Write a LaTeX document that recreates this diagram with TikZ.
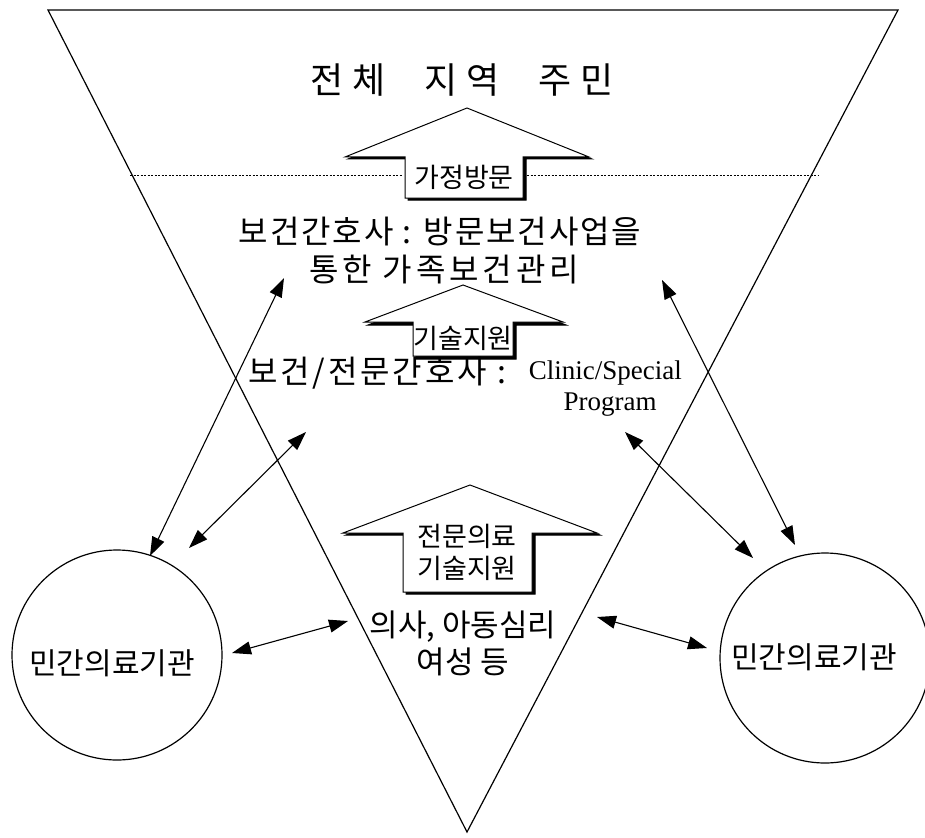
\documentclass[tikz,border=0pt]{standalone}
\usepackage{fontspec}
\setmainfont{Liberation Serif}
\newfontfamily\kr{Noto Sans CJK KR}
\usetikzlibrary{arrows.meta}
\begin{document}
\begin{tikzpicture}[x=1pt,y=-1pt,
  edge/.style={line width=1.2pt, line join=miter},
  dbl/.style={line width=1.1pt,{Triangle[length=19pt,width=13pt]}-{Triangle[length=19pt,width=13pt]}},
  dots/.style={line width=0.8pt, dash pattern=on 2pt off 1.5pt},
  big/.style={font=\kr\addfontfeature{LetterSpace=6}\fontsize{32}{36}\selectfont, inner sep=0pt},
  bigs/.style={font=\kr\addfontfeature{LetterSpace=9}\fontsize{32}{36}\selectfont, inner sep=0pt},
  bigw/.style={font=\kr\addfontfeature{LetterSpace=12}\fontsize{32}{36}\selectfont, inner sep=0pt},
  mid/.style={font=\kr\fontsize{31}{36}\selectfont, inner sep=0pt},
  lbl/.style={font=\kr\fontsize{27}{30}\selectfont, inner sep=0pt},
  circtxt/.style={font=\kr\fontsize{30}{34}\selectfont, inner sep=0pt},
  latin/.style={font=\rmfamily\fontsize{27}{32}\selectfont, inner sep=0pt},
  upar/.style={draw=black, line width=1pt, fill=white},
  shadow/.style={fill=black, draw=black, line width=1pt}]
\useasboundingbox (0,0) rectangle (925,837);

% big triangle
\coordinate (tl) at (48,10);
\coordinate (tr) at (898,10);
\coordinate (ap) at (467,832);
\draw[edge] (tl) -- (tr) -- (ap) -- cycle;

% dotted line
\coordinate (d1) at (130,175);
\coordinate (d2) at (403,175);
\coordinate (d3) at (527,175);
\coordinate (d4) at (818,175);
\draw[dots] (d1) -- (d2);
\draw[dots] (d3) -- (d4);

% title
\node[font=\kr\fontsize{36}{40}\selectfont, inner sep=0pt] (title) at (462,80)
  {전\hspace{9pt}체\hspace{39pt}지\hspace{9pt}역\hspace{39pt}주\hspace{9pt}민};

% arrow 1
\fill[shadow, shift={(3,2)}] (467,108) -- (589,157) -- (523,157) -- (523,198) -- (405,198) -- (405,157) -- (345,157) -- cycle;
\draw[upar] (467,108) -- (589,157) -- (523,157) -- (523,198) -- (405,198) -- (405,157) -- (345,157) -- cycle;
\node[lbl] (home) at (464,177) {가정방문};

% arrow 2
\fill[shadow, shift={(3,3)}] (463,285) -- (563,322) -- (513,322) -- (513,356) -- (413,356) -- (413,322) -- (365,322) -- cycle;
\draw[upar] (463,285) -- (563,322) -- (513,322) -- (513,356) -- (413,356) -- (413,322) -- (365,322) -- cycle;
\node[lbl] (tech) at (463,338) {기술지원};

% arrow 3
\fill[shadow, shift={(3,2)}] (470,485) -- (597,533) -- (532,533) -- (532,592) -- (403,592) -- (403,533) -- (343,533) -- cycle;
\draw[upar] (470,485) -- (597,533) -- (532,533) -- (532,592) -- (403,592) -- (403,533) -- (343,533) -- cycle;
\node[lbl] (spec1) at (467,536) {전문의료};
\node[lbl] (spec2) at (467,568) {기술지원};

% texts
\node[big] (nurse1) at (440,232) {보건간호사 : 방문보건사업을};
\node[bigw] (nurse2) at (444,270) {통한 가족보건관리};
\node[bigs, anchor=west] (nurse3) at (248,373) {보건/전문간호사 :};
\node[latin, anchor=east] (clin) at (682,373) {Clinic/Special};
\node[latin] (prog) at (610,405) {Program};
\node[mid] (doc1) at (463,627) {의사, 아동심리};
\node[mid] (doc2) at (463,662) {여성 등};

% circles
\node[draw, circle, line width=1.2pt, minimum size=210pt, inner sep=0pt] (lc) at (117,655) {};
\node[circtxt] (lct) at (112,663) {민간의료기관};
\node[draw, circle, line width=1.2pt, minimum size=210pt, inner sep=0pt] (rc) at (825,658) {};
\node[circtxt] (rct) at (814,657) {민간의료기관};

% double arrows
\coordinate (a1a) at (150,556); \coordinate (a1b) at (284,278);
\coordinate (a2a) at (189,548); \coordinate (a2b) at (306,432);
\coordinate (a3a) at (232,653); \coordinate (a3b) at (348,621);
\coordinate (a4a) at (597,617); \coordinate (a4b) at (707,648);
\coordinate (a5a) at (625,432); \coordinate (a5b) at (753,558);
\coordinate (a6a) at (662,280); \coordinate (a6b) at (795,545);
\draw[dbl] (a1a) -- (a1b);
\draw[dbl] (a2a) -- (a2b);
\draw[dbl] (a3a) -- (a3b);
\draw[dbl] (a4a) -- (a4b);
\draw[dbl] (a5a) -- (a5b);
\draw[dbl] (a6a) -- (a6b);
\end{tikzpicture}
\end{document}
